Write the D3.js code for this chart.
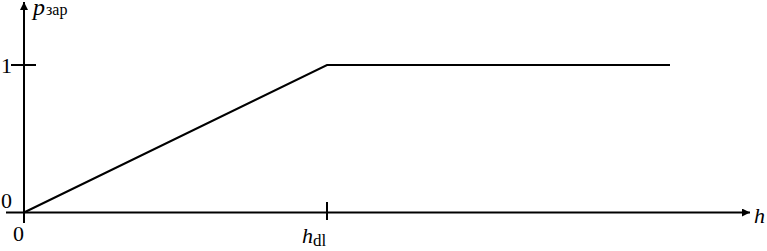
<!DOCTYPE html>
<html>
<head>
<meta charset="utf-8">
<script src="https://cdn.jsdelivr.net/npm/d3@7.9.0/dist/d3.min.js"></script>
<style>
  html, body { margin: 0; padding: 0; background: #fff; }
  svg { display: block; }
</style>
</head>
<body>
<svg id="chart" width="767" height="251"></svg>
<script>
// curve points: h (in units of h_dl) and p_зар
const hValues = [0, 1, 2.132];
const pValues = [0, 1, 1];
const yTicks = [0, 1];
const xTickLabels = [{ v: 0, main: '0', sub: '' }, { v: 1, main: 'h', sub: 'dl' }];

const FONT = '"Liberation Serif", "Times New Roman", Times, "DejaVu Serif", serif';

const svg = d3.select('#chart')
  .attr('font-family', FONT);

const x = d3.scaleLinear().domain([0, 1]).range([24, 327]);
const y = d3.scaleLinear().domain([0, 1]).range([212.5, 65]);

const x0 = x(0), y0 = y(0);

// arrow heads
svg.append('defs').append('marker')
  .attr('id', 'arrow')
  .attr('viewBox', '0 0 10 10')
  .attr('refX', 10).attr('refY', 5)
  .attr('markerWidth', 10).attr('markerHeight', 8)
  .attr('markerUnits', 'userSpaceOnUse')
  .attr('orient', 'auto')
  .append('path').attr('d', 'M0,0 L10,5 L0,10 Z').attr('fill', '#000');

// x axis
svg.append('line')
  .attr('x1', 6).attr('y1', y0).attr('x2', 750).attr('y2', y0)
  .attr('stroke', '#000').attr('stroke-width', 2)
  .attr('marker-end', 'url(#arrow)');

// y axis
svg.append('line')
  .attr('x1', x0).attr('y1', 223).attr('x2', x0).attr('y2', 2)
  .attr('stroke', '#000').attr('stroke-width', 2)
  .attr('marker-end', 'url(#arrow)');

// y tick at 1
svg.append('line')
  .attr('x1', 11).attr('x2', 36).attr('y1', y(1)).attr('y2', y(1))
  .attr('stroke', '#000').attr('stroke-width', 2);

// x tick at h_dl
svg.append('line')
  .attr('x1', x(1)).attr('x2', x(1)).attr('y1', 202).attr('y2', 220)
  .attr('stroke', '#000').attr('stroke-width', 2);

// y labels
svg.selectAll('.ylab').data(yTicks).join('text')
  .attr('class', 'ylab')
  .attr('x', 1)
  .attr('y', d => d === 1 ? y(1) + 8 : y0 - 5)
  .attr('font-size', 22)
  .text(d => d);

// x labels
xTickLabels.forEach(t => {
  const g = svg.append('text')
    .attr('x', t.v === 0 ? x(0) - 11 : x(1) - 25)
    .attr('y', t.v === 0 ? 241 : 243)
    .attr('font-size', 22);
  g.append('tspan').attr('font-style', t.sub ? 'italic' : 'normal').text(t.main);
  if (t.sub) g.append('tspan').attr('font-size', 17).attr('dy', 3).text(t.sub);
});

// axis titles
const pt = svg.append('text').attr('x', 33).attr('y', 15).attr('font-size', 24);
pt.append('tspan').attr('font-style', 'italic').text('p');
pt.append('tspan').attr('font-size', 16).attr('dx', 1).text('зар');

svg.append('text').attr('x', 754).attr('y', 223)
  .attr('font-size', 22).attr('font-style', 'italic').text('h');

// curve
const data = hValues.map((h, i) => ({ h, p: pValues[i] }));
svg.append('path')
  .datum(data)
  .attr('fill', 'none')
  .attr('stroke', '#000')
  .attr('stroke-width', 2)
  .attr('d', d3.line().x(d => x(d.h)).y(d => y(d.p)));
</script>
</body>
</html>
